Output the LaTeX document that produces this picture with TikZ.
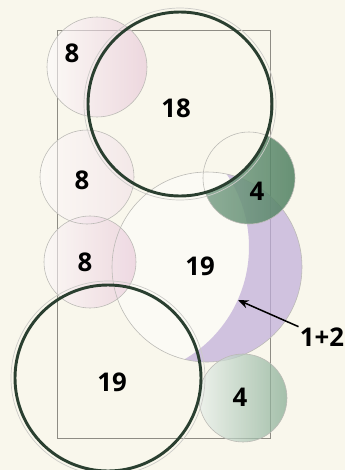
\documentclass[tikz,border=0pt]{standalone}
\usepackage{fontspec}
\setmainfont{Open Sans}
\usetikzlibrary{arrows.meta}
\definecolor{paper}{HTML}{F9F7EC}
\definecolor{pencil}{HTML}{8E8C84}
\definecolor{hedge}{HTML}{2A3F30}
\definecolor{rosy}{HTML}{E6C3D6}
\definecolor{moss}{HTML}{3C7A52}
\definecolor{lilac}{HTML}{A68BCB}
\tikzset{
  plant/.style={draw=pencil!60, line width=0.5pt},
  tree/.style={draw=hedge, line width=2.5pt},
  halo/.style={draw=pencil!45, line width=0.6pt},
  num/.style={font=\fontsize{22}{24}\selectfont\bfseries, text=black, inner sep=1pt},
}
\begin{document}
\begin{tikzpicture}[x=0.03cm,y=-0.03cm]
\fill[paper] (0,0) rectangle (345,470);
\useasboundingbox (0,0) rectangle (345,470);
% bed
\draw[pencil, line width=0.6pt] (57,30) rectangle (270,438);
% big light one with lilac edge
\fill[white, opacity=0.45] (207,267) circle (95);
\begin{scope}
  \clip (207,267) circle (95);
  \fill[lilac, opacity=0.5, even odd rule] (0,0) rectangle (345,470) (119,247) circle (130);
\end{scope}
% pink shrubs
\shade[left color=rosy!5, right color=rosy, opacity=0.6] (97,67) circle (50);
\shade[left color=rosy!5, right color=rosy!60, opacity=0.5] (87,177) circle (47);
\shade[left color=rosy!10, right color=rosy, opacity=0.6] (90,262) circle (46);
\draw[plant] (97,67) circle (50);
\draw[plant] (87,177) circle (47);
\draw[plant] (90,262) circle (46);
\draw[plant] (207,267) circle (95);
% green ones
\begin{scope}
  \clip (249,178) circle (46);
  \path[left color=moss!15, right color=moss!90!black, even odd rule, opacity=0.85]
    (0,0) rectangle (345,470) (180,104) circle (92);
\end{scope}
\draw[plant] (249,178) circle (46);
\shade[left color=moss!12, right color=moss!65, opacity=0.7] (243,398) circle (44);
\draw[plant] (243,398) circle (44);
% trees
\draw[halo] (180,104) circle (96);
\draw[tree] (180,104) circle (92);
\draw[halo] (108,378) circle (97);
\draw[tree] (108,378) circle (93);
% labels
\node[num] (n8a) at (72,53) {8};
\node[num] (n18) at (176,108) {18};
\node[num] (n8b) at (82,180) {8};
\node[num] (n4a) at (257,191) {4};
\node[num] (n8c) at (85,262) {8};
\node[num] (n19a) at (200,266) {19};
\node[num] (n19b) at (112,382) {19};
\node[num] (n4b) at (240,397) {4};
\node[num] (mix) at (322,337) {1+2};
\coordinate (tip) at (238,300);
\draw[line width=1.3pt, -{Stealth[length=9pt, width=7pt]}] (mix) -- (tip);
\end{tikzpicture}
\end{document}
